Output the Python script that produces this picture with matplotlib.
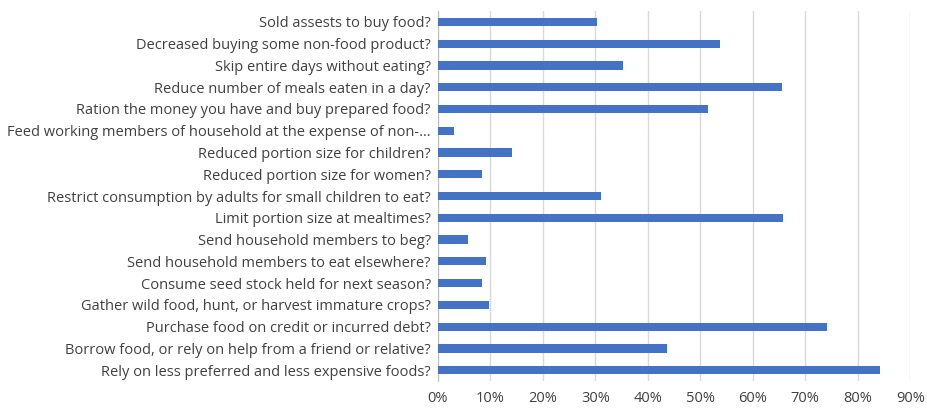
import matplotlib.pyplot as plt
from matplotlib.ticker import PercentFormatter

# Coping strategies, listed bottom to top as they appear on the chart
strategies = [
    'Rely on less preferred and less expensive foods?',
    'Borrow food, or rely on help from a friend or relative?',
    'Purchase food on credit or incurred debt?',
    'Gather wild food, hunt, or harvest immature crops?',
    'Consume seed stock held for next season?',
    'Send household members to eat elsewhere?',
    'Send household members to beg?',
    'Limit portion size at mealtimes?',
    'Restrict consumption by adults for small children to eat?',
    'Reduced portion size for women?',
    'Reduced portion size for children?',
    'Feed working members of household at the expense of non-\u2026',
    'Ration the money you have and buy prepared food?',
    'Reduce number of meals eaten in a day?',
    'Skip entire days without eating?',
    'Decreased buying some non-food product?',
    'Sold assests to buy food?',
]
share = [0.842, 0.437, 0.742, 0.098, 0.085, 0.091, 0.057, 0.658, 0.310,
         0.084, 0.142, 0.031, 0.514, 0.655, 0.352, 0.538, 0.303]
xticks = [0.0, 0.1, 0.2, 0.3, 0.4, 0.5, 0.6, 0.7, 0.8, 0.9]

plt.rcParams['font.family'] = ['Open Sans', 'DejaVu Sans']
text_color = '#404040'

fig = plt.figure(figsize=(9.27, 4.08), dpi=100)
ax = fig.add_axes([0.4722, 0.066, 0.5098, 0.907])

ax.barh(range(len(strategies)), share, height=0.38, color='#4472C4', zorder=3)

ax.set_xlim(0, 0.9)
ax.set_ylim(-0.5, len(strategies) - 0.5)
ax.set_xticks(xticks)
ax.xaxis.set_major_formatter(PercentFormatter(1.0, decimals=0))
ax.set_yticks(range(len(strategies)))
ax.set_yticklabels(strategies)

ax.grid(axis='x', color='#d9d9d9', linewidth=1, zorder=0)
ax.tick_params(axis='both', length=0, labelsize=10.5, colors=text_color)
ax.tick_params(axis='y', pad=5)
ax.tick_params(axis='x', pad=7)
for side in ['top', 'right', 'bottom']:
    ax.spines[side].set_visible(False)
ax.spines['left'].set_color('#bfbfbf')

fig.savefig('out.png', dpi=100)
